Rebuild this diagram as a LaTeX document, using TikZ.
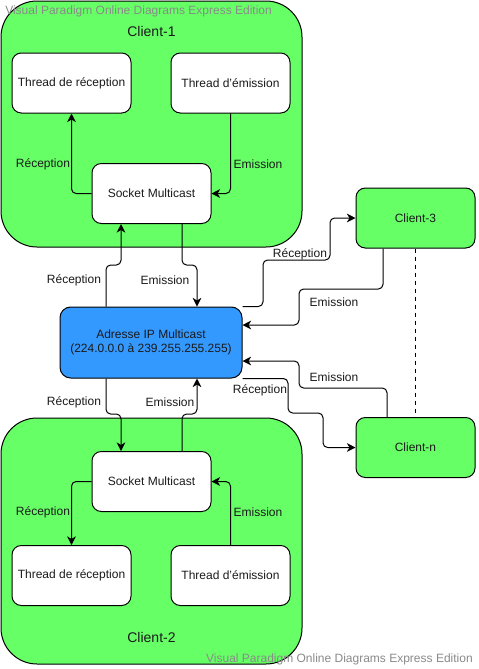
\documentclass[tikz,border=0pt]{standalone}
\usepackage{fontspec}
\setmainfont{Liberation Sans}
\usetikzlibrary{arrows.meta}
\definecolor{cgreen}{HTML}{66FF66}
\definecolor{cblue}{HTML}{3399FF}
\definecolor{txt}{HTML}{1A1A1A}
\definecolor{wm}{HTML}{8A8A8A}
\begin{document}
\begin{tikzpicture}[x=0.75pt,y=-0.75pt,
  every node/.style={font=\fontsize{9pt}{11pt}\selectfont, text=txt},
  bigbox/.style={draw=black, line width=0.75pt, fill=cgreen, rounded corners=27pt, minimum width=225.75pt, minimum height=184.5pt},
  wbox/.style={draw=black, line width=0.75pt, fill=white, rounded corners=7pt, minimum width=89.25pt, minimum height=45pt, inner sep=0pt},
  gbox/.style={draw=black, line width=0.75pt, fill=cgreen, rounded corners=7pt, minimum width=89.25pt, minimum height=45pt, inner sep=0pt},
  title/.style={font=\fontsize{10.5pt}{12pt}\selectfont},
  lbl/.style={inner sep=0pt},
  wmark/.style={font=\fontsize{9pt}{10pt}\selectfont, text=wm, inner sep=0pt},
  conn/.style={draw=black, line width=0.75pt, rounded corners=3.5pt},
  arr/.style={conn, -{Stealth[length=6.5pt,width=6.5pt,inset=2pt]}}
]
\useasboundingbox (0,0) rectangle (479,669);
\fill[white] (0,0) rectangle (479,669);

% big client boxes
\node[bigbox] (c1) at (151.5,124) {};
\node[bigbox] (c2) at (151.5,541) {};
\node[title] (t1) at (151.5,31) {Client-1};
\node[title] (t2) at (151.5,637) {Client-2};

% inner boxes client-1
\node[wbox] (tr1) at (71.5,83) {Thread de réception};
\node[wbox] (te1) at (230.5,83) {Thread d'émission};
\node[wbox] (s1) at (151.5,193.5) {Socket Multicast};

% inner boxes client-2
\node[wbox] (s2) at (151.5,481.5) {Socket Multicast};
\node[wbox] (tr2) at (71.5,575.5) {Thread de réception};
\node[wbox] (te2) at (230.5,575.5) {Thread d'émission};

% IP
\node[draw=black, line width=0.75pt, fill=cblue, rounded corners=8pt, minimum width=136.5pt, minimum height=53.25pt, align=center, inner sep=0pt] (ip) at (151,342.5) {Adresse IP Multicast\\(224.0.0.0 à 239.255.255.255)};

% other clients
\node[gbox] (c3) at (415.5,218) {Client-3};
\node[gbox] (cn) at (415.5,447.5) {Client-n};

% internal arrows
\draw[arr] (s1.west) -| (tr1.south);
\draw[arr] (te1.south) |- (s1.east);
\draw[arr] (s2.west) -| (tr2.north);
\draw[arr] (te2.north) |- (s2.east);

% socket <-> IP
\draw[arr] (106,0 |- ip.north) |- (121,265) -- (121,0 |- s1.south);
\draw[arr] (182,0 |- s1.south) |- (197,265) -- (197,0 |- ip.north);
\draw[arr] (106,0 |- ip.south) |- (121,414) -- (121,0 |- s2.north);
\draw[arr] (182,0 |- s2.north) |- (197,414) -- (197,0 |- ip.south);

% IP <-> client-3 / client-n
\draw[arr] (ip.north east) -| (263,260) -| (330,218) -- (c3.west);
\draw[arr] (383,0 |- c3.south) |- (299,289) |- (ip.east |- 0,325);
\draw[arr] (387,0 |- cn.north) |- (299,388) |- (ip.east |- 0,361);
\draw[arr] (ip.south east) -| (288,413) -| (323,447.5) -- (cn.west);
\draw[line width=0.75pt, dashed] (c3.south) -- (cn.north);

% labels
\node[lbl] (l1) at (43,164) {Réception};
\node[lbl] (l2) at (258,164) {Emission};
\node[lbl] (l3) at (74,280) {Réception};
\node[lbl] (l4) at (165,280) {Emission};
\node[lbl] (l5) at (300,254) {Réception};
\node[lbl] (l6) at (334,302) {Emission};
\node[lbl] (l7) at (334,377) {Emission};
\node[lbl] (l8) at (260,390) {Réception};
\node[lbl] (l9) at (74,402) {Réception};
\node[lbl] (l10) at (170,402) {Emission};
\node[lbl] (l11) at (43,512) {Réception};
\node[lbl] (l12) at (258,512) {Emission};

% watermarks
\node[wmark, anchor=west] (w1) at (5,11) {Visual Paradigm Online Diagrams Express Edition};
\node[wmark, anchor=east] (w2) at (473,659) {Visual Paradigm Online Diagrams Express Edition};
\end{tikzpicture}
\end{document}
